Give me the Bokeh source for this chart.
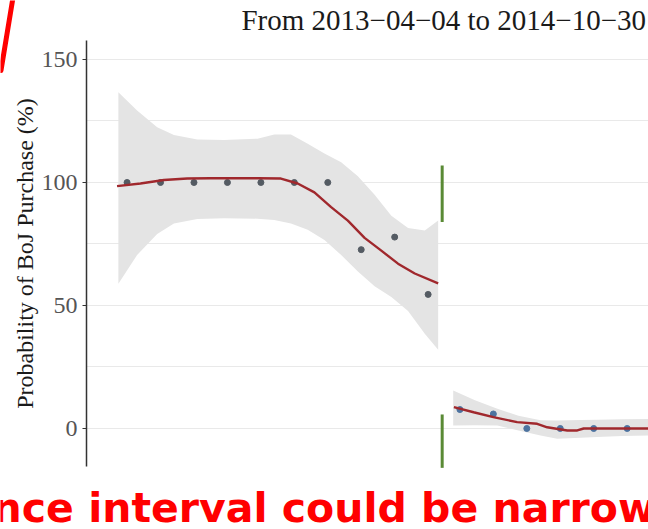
from bokeh.plotting import figure
from bokeh.models import Range1d, FixedTicker
from bokeh.core.properties import value
from bokeh.embed import file_html
from bokeh.resources import INLINE

# ---- data (x = bins relative to the cut-off) ----
left_x = [-9.4, -8.4, -7.4, -6.4, -5.4, -4.4, -3.4, -2.4, -1.4, -0.4]
left_y = [100, 100, 100, 100, 100, 100, 100, 72.7, 77.8, 54.5]
right_x = [0.55, 1.55, 2.55, 3.55, 4.55, 5.55]
right_y = [7.7, 5.9, 0, 0, 0, 0]

fit_left_x = [-9.7, -9.0, -8.3, -7.6, -6.9, -6.2, -5.5, -4.8, -4.3, -3.8, -3.3, -2.8, -2.3, -1.8, -1.3, -0.8, -0.1]
fit_left_y = [98.5, 99.6, 101.0, 101.6, 101.7, 101.7, 101.7, 101.6, 99.6, 96.0, 90.0, 84.5, 77.5, 72.3, 67.0, 63.0, 59.0]

band_left_x = [-9.66, -9.1, -8.5, -8.0, -7.3, -6.5, -5.5, -5.0, -4.5, -4.0, -3.5, -3.0, -2.5, -2.0, -1.5, -1.0, -0.5, -0.1]
band_left_hi = [136.7, 129.3, 122.5, 119.3, 117.5, 117.3, 117.8, 119.5, 119.5, 115.7, 111.8, 108.2, 102.5, 95.0, 86.5, 81.5, 80.5, 84.5]
band_left_lo = [58.8, 70.5, 79.1, 83.3, 85.2, 85.5, 85.3, 84.8, 83.3, 80.8, 76.6, 70.5, 63.8, 57.8, 53.5, 47.8, 38.5, 32.0]

fit_right_x = [0.37, 0.96, 1.55, 2.26, 2.86, 3.16, 3.76, 4.06, 4.25, 5.0, 6.19]
fit_right_y = [8.7, 6.6, 4.6, 2.6, 1.9, 0.5, -0.8, -0.8, 0.0, 0.0, 0.0]

band_right_x = [0.35, 1.0, 1.67, 2.3, 2.96, 3.46, 4.16, 4.65, 5.4, 6.19]
band_right_hi = [15.4, 11.5, 8.0, 5.2, 3.3, 3.2, 3.5, 3.6, 3.8, 3.9]
band_right_lo = [1.2, 1.3, 1.2, -0.8, -2.8, -4.2, -3.8, -3.5, -3.1, -2.8]

cut_x = 0.02
cut_top = [106.9, 83.9]
cut_bottom = [5.7, -16.0]

y_ticks = [0, 50, 100, 150]
grid_ticks = [0, 25, 50, 75, 100, 125, 150]
axis_span = (-15.45, 157.7)
axis_x = -10.613
plot_x_span = (-10.613, 6.188)

title_text = "From 2013\u221204\u221204 to 2014\u221210\u221230"
y_label = "Probability of BoJ Purchase (%)"
note_text = "nce interval could be narrow"

# annotation positions (data coordinates)
title_pos = (-5.98, 165.95)
note_pos = (-13.42, -32.5)
stroke_x = [-12.81, -13.17]
stroke_y = [175.2, 145.5]

p = figure(width=648, height=529, output_backend="svg", toolbar_location=None,
           x_range=Range1d(-13.184, 6.188), y_range=Range1d(-41.06, 173.98),
           x_axis_type=None,
           min_border_left=0, min_border_right=0, min_border_top=0, min_border_bottom=0)
p.outline_line_color = None
p.background_fill_color = "white"
p.border_fill_color = "white"

p.xgrid.visible = False
p.ygrid.ticker = FixedTicker(ticks=grid_ticks)
p.ygrid.grid_line_color = "#e9e9e9"
p.ygrid.grid_line_width = 1
p.ygrid.cross_bounds = plot_x_span

ax = p.yaxis[0]
ax.fixed_location = axis_x
ax.bounds = axis_span
ax.ticker = FixedTicker(ticks=y_ticks)
ax.axis_label = y_label
ax.axis_label_text_font = "Liberation Serif"
ax.axis_label_text_font_size = "24px"
ax.axis_label_text_font_style = "normal"
ax.axis_label_text_color = "#1a1a1a"
ax.axis_label_standoff = 1
ax.major_label_text_font = "Liberation Serif"
ax.major_label_text_font_size = "24px"
ax.major_label_text_color = "#555555"
ax.major_label_standoff = 5
ax.major_tick_out = 4
ax.major_tick_in = 0
ax.minor_tick_out = 0
ax.minor_tick_in = 0
ax.axis_line_color = "#333333"
ax.axis_line_width = 1.5
ax.major_tick_line_color = "#333333"
ax.major_tick_line_width = 1.2

# confidence bands
p.varea(x=band_left_x, y1=band_left_lo, y2=band_left_hi, fill_color="#e4e4e4")
p.varea(x=band_right_x, y1=band_right_lo, y2=band_right_hi, fill_color="#e4e4e4")

# cut-off marks
p.line(x=[cut_x, cut_x], y=cut_top, line_color="#5a8a35", line_width=3)
p.line(x=[cut_x, cut_x], y=cut_bottom, line_color="#5a8a35", line_width=3)

# binned points
p.scatter(x=left_x, y=left_y, size=6, fill_color="#545b63", line_color="#545b63")
p.scatter(x=right_x, y=right_y, size=6, fill_color="#4d73a0", line_color="#4d73a0")

# fitted lines
p.line(x=fit_left_x, y=fit_left_y, line_color="#a0282d", line_width=2.4)
p.line(x=fit_right_x, y=fit_right_y, line_color="#a0282d", line_width=2.4)

# title
p.text(x=[title_pos[0]], y=[title_pos[1]], text=[title_text],
       text_font=value("Liberation Serif"), text_font_size=value("29px"),
       text_color="#1a1a1a", text_baseline="alphabetic", text_align="left")

# red note at the bottom
p.text(x=[note_pos[0]], y=[note_pos[1]], text=[note_text],
       text_font=value("DejaVu Sans"), text_font_size=value("41px"),
       text_font_style="bold", text_color="#ff0000",
       text_baseline="alphabetic", text_align="left")

# red pen stroke
p.line(x=stroke_x, y=stroke_y, line_color="#ff0000", line_width=5, line_cap="round")

open("out.html", "w").write(file_html(p, INLINE))
